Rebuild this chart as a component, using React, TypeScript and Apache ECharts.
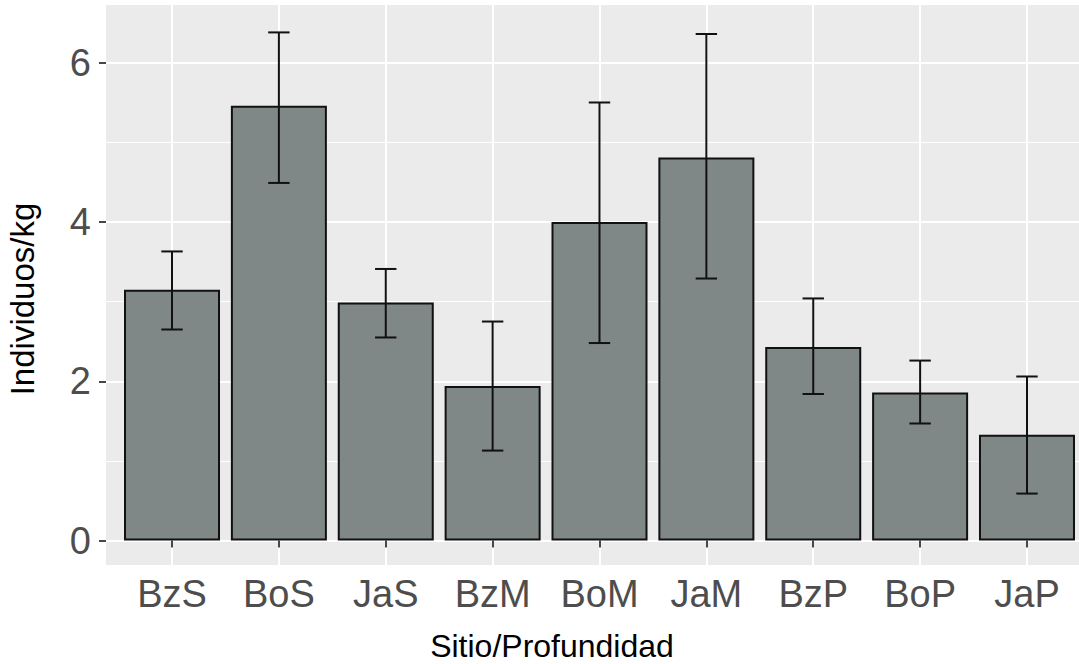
import React, { useEffect, useRef } from "react";
import * as echarts from "echarts";

const categories = ["BzS", "BoS", "JaS", "BzM", "BoM", "JaM", "BzP", "BoP", "JaP"];
const means = [3.15, 5.46, 2.99, 1.94, 4.0, 4.81, 2.43, 1.86, 1.33];
const lowers = [2.65, 4.49, 2.55, 1.13, 2.48, 3.29, 1.84, 1.47, 0.59];
const uppers = [3.63, 6.38, 3.41, 2.75, 5.5, 6.36, 3.04, 2.26, 2.06];
const yMajorTicks = [0, 2, 4, 6];
const yMinorTicks = [1, 3, 5];
const xTicks = categories.map((_, i) => i + 1);

const FONT = "'Liberation Sans', Arial, sans-serif";

export default function App() {
  const ref = useRef<HTMLDivElement>(null);
  useEffect(() => {
    if (!ref.current) return;
    const chart = echarts.init(ref.current, undefined, { renderer: "svg" });
    const barData = means.map((v, i) => [i + 1, v]);
    const errData = means.map((_, i) => [i + 1, lowers[i], uppers[i]]);
    chart.setOption({
      animation: false,
      backgroundColor: "#ffffff",
      grid: {
        left: 106,
        right: 0,
        top: 5,
        bottom: 99,
        show: true,
        backgroundColor: "#EBEBEB",
        borderWidth: 0,
      },
      xAxis: {
        type: "value",
        min: 0.3823,
        max: 9.6177,
        axisLine: { show: false },
        axisTick: {
          show: true,
          customValues: xTicks,
          length: 7,
          lineStyle: { color: "#333333", width: 1.8 },
        },
        axisLabel: {
          customValues: xTicks,
          formatter: (v: number) => categories[Math.round(v) - 1] ?? "",
          color: "#4D4D4D",
          fontSize: 38,
          fontFamily: FONT,
          margin: 10,
        },
        splitLine: { show: true, lineStyle: { color: "#ffffff", width: 2 } },
      },
      yAxis: [
        {
          type: "value",
          min: -0.3066,
          max: 6.724,
          position: "left",
          axisLine: { show: false },
          axisTick: {
            show: true,
            customValues: yMajorTicks,
            length: 7,
            lineStyle: { color: "#333333", width: 1.8 },
          },
          axisLabel: {
            customValues: yMajorTicks,
            color: "#4D4D4D",
            fontSize: 38,
            fontFamily: FONT,
            margin: 15,
          },
          splitLine: { show: true, lineStyle: { color: "#ffffff", width: 2 } },
        },
        {
          type: "value",
          min: -0.3066,
          max: 6.724,
          position: "left",
          axisLine: { show: false },
          axisTick: { show: false, customValues: yMinorTicks },
          axisLabel: { show: false, customValues: yMinorTicks },
          splitLine: { show: true, lineStyle: { color: "#ffffff", width: 1 } },
        },
      ],
      graphic: [
        {
          type: "text",
          x: 552,
          y: 646,
          style: {
            text: "Sitio/Profundidad",
            fontSize: 32,
            fontFamily: FONT,
            fill: "#000000",
            align: "center",
            verticalAlign: "middle",
          },
        },
        {
          type: "text",
          x: 22,
          y: 299,
          rotation: Math.PI / 2,
          style: {
            text: "Individuos/kg",
            fontSize: 33,
            fontFamily: FONT,
            fill: "#000000",
            align: "center",
            verticalAlign: "middle",
          },
        },
      ],
      series: [
        {
          type: "bar",
          data: barData,
          barWidth: 96,
          itemStyle: {
            color: "#7F8886",
            borderColor: "#111111",
            borderWidth: 2,
          },
          z: 2,
        },
        {
          type: "custom",
          data: errData,
          z: 3,
          renderItem: (params: any, api: any) => {
            const x = api.value(0);
            const lo = api.coord([x, api.value(1)]);
            const hi = api.coord([x, api.value(2)]);
            const half = 10.7;
            const style = { stroke: "#111111", lineWidth: 2 };
            return {
              type: "group",
              children: [
                { type: "line", shape: { x1: lo[0], y1: lo[1], x2: hi[0], y2: hi[1] }, style },
                { type: "line", shape: { x1: hi[0] - half, y1: hi[1], x2: hi[0] + half, y2: hi[1] }, style },
                { type: "line", shape: { x1: lo[0] - half, y1: lo[1], x2: lo[0] + half, y2: lo[1] }, style },
              ],
            };
          },
        },
      ],
    });
    return () => chart.dispose();
  }, []);
  return (
    <div
      style={{
        position: "fixed",
        left: 0,
        top: 0,
        width: 1079,
        height: 664,
        overflow: "hidden",
        background: "#ffffff",
      }}
    >
      <div ref={ref} style={{ width: 1093, height: 664 }} />
    </div>
  );
}
